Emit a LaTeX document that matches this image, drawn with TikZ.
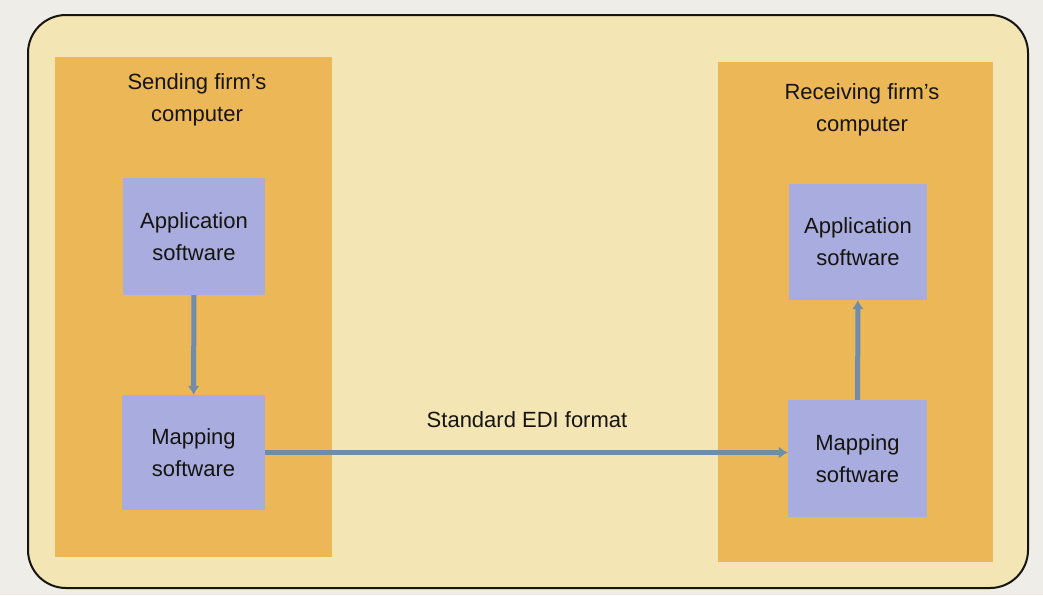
\documentclass[tikz,border=0pt]{standalone}
\usepackage{fontspec}
\setmainfont{Liberation Sans}
\usepackage{xcolor}
\usepackage{tikz}
\usetikzlibrary{arrows.meta,positioning}
\definecolor{ediMargin}{RGB}{238,237,231}
\definecolor{ediPaper}{RGB}{243,229,180}
\definecolor{ediOrange}{RGB}{236,183,86}
\definecolor{ediBlue}{RGB}{168,172,222}
\definecolor{ediArrow}{RGB}{112,140,168}
\definecolor{ediInk}{RGB}{22,20,16}

\begin{document}
\begin{tikzpicture}[x=1pt,y=-1pt,font=\fontsize{22}{32}\selectfont,
  column/.style={fill=ediOrange, inner sep=0pt},
  softbox/.style={fill=ediBlue, inner sep=0pt, align=center, text=ediInk},
  flow/.style={draw=ediArrow, line width=5pt, -{Latex[length=9pt,width=12pt]}}]
\useasboundingbox (0,0) rectangle (1043,595);
\fill[ediMargin] (0,0) rectangle (1043,595);
\draw[ediInk, line width=2pt, fill=ediPaper, rounded corners=38pt] (28,15) rectangle (1028,588);
% the two computers
\node[column, minimum width=277pt, minimum height=500pt] (sendpc) at (193.5,307) {};
\node[column, minimum width=275pt, minimum height=500pt] (recvpc) at (855.5,312) {};
\node[align=center, text=ediInk] (sendlbl) at (197,100) {Sending firm's\\computer};
\node[align=center, text=ediInk] (recvlbl) at (862,110) {Receiving firm's\\computer};
% software boxes
\node[softbox, minimum width=142pt, minimum height=117pt] (sapp) at (194,236.5) {Application\\software};
\node[softbox, minimum width=143pt, minimum height=115pt] (smap) at (193.5,452.5) {Mapping\\software};
\node[softbox, minimum width=138pt, minimum height=116pt] (rapp) at (858,242) {Application\\software};
\node[softbox, minimum width=139pt, minimum height=117pt] (rmap) at (857.5,458.5) {Mapping\\software};
% connectors
\draw[flow] (sapp) -- (smap);
\draw[flow] (smap.east) -- (smap.east -| rmap.west);
\draw[flow] (rmap) -- (rapp);
\node[text=ediInk] (edi) at (527,420) {Standard EDI format};
\end{tikzpicture}
\end{document}
